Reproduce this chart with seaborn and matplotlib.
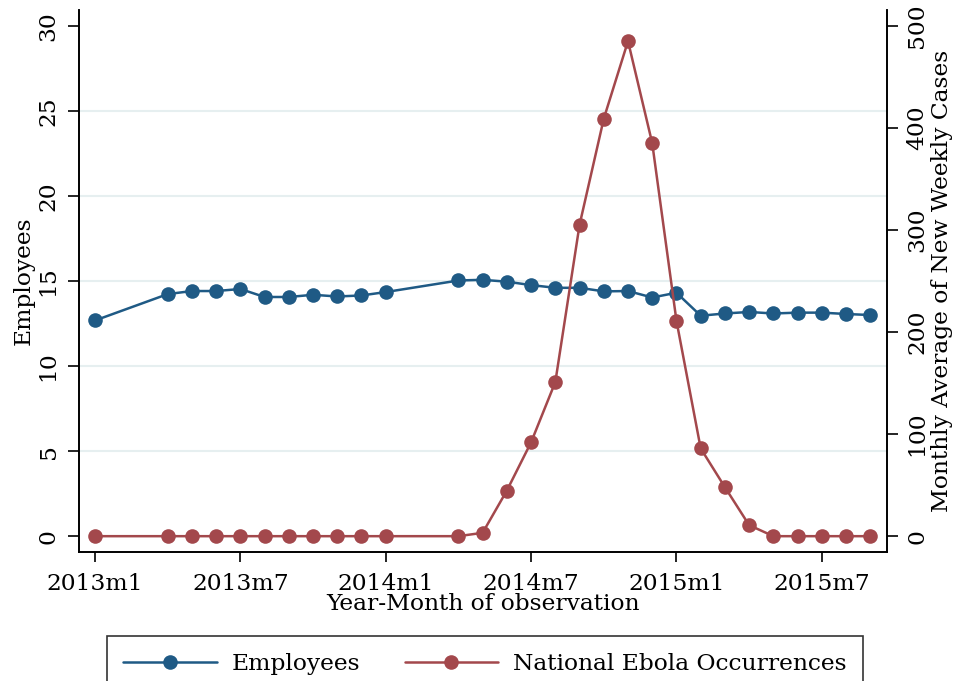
import matplotlib
matplotlib.use("Agg")
import matplotlib.pyplot as plt
import seaborn as sns
import pandas as pd

months = ["2013m1", "2013m4", "2013m5", "2013m6", "2013m7", "2013m8", "2013m9",
          "2013m10", "2013m11", "2013m12", "2014m1", "2014m4", "2014m5", "2014m6",
          "2014m7", "2014m8", "2014m9", "2014m10", "2014m11", "2014m12", "2015m1",
          "2015m2", "2015m3", "2015m4", "2015m5", "2015m6", "2015m7", "2015m8", "2015m9"]
employees = [12.68, 14.23, 14.41, 14.41, 14.53, 14.06, 14.06, 14.19, 14.09, 14.15,
             14.35, 15.03, 15.07, 14.96, 14.76, 14.60, 14.60, 14.39, 14.41, 14.03,
             14.31, 12.96, 13.09, 13.18, 13.09, 13.14, 13.14, 13.06, 13.00]
ebola = [0, 0, 0, 0, 0, 0, 0, 0, 0, 0, 0, 0, 3.3, 44.7, 92, 151, 305, 409, 485, 385,
         211, 86, 48, 10.8, 0, 0, 0, 0, 0]
xtick_labels = ["2013m1", "2013m7", "2014m1", "2014m7", "2015m1", "2015m7"]
left_ticks = [0, 5, 10, 15, 20, 25, 30]
right_ticks = [0, 100, 200, 300, 400, 500]


def month_index(s):
    y, m = s.split("m")
    return (int(y) - 2013) * 12 + int(m) - 1


df = pd.DataFrame({"month": months, "Employees": employees, "Ebola": ebola})
df["t"] = df["month"].map(month_index)

sns.set_theme(style="white")
plt.rcParams["font.family"] = ["DejaVu Serif"]
plt.rcParams["text.color"] = "black"

BLUE = "#1f5a85"
RED = "#a3484c"

fig = plt.figure(figsize=(9.58, 6.81), dpi=100)
ax = fig.add_axes([79 / 958, 1 - 552 / 681, (887 - 79) / 958, (552 - 10) / 681])
ax2 = ax.twinx()

sns.lineplot(data=df, x="t", y="Employees", ax=ax, color=BLUE, marker="o",
             markersize=10.5, markeredgewidth=0, linewidth=1.8, label="Employees",
             legend=False)
sns.lineplot(data=df, x="t", y="Ebola", ax=ax2, color=RED, marker="o",
             markersize=10.5, markeredgewidth=0, linewidth=1.8,
             label="National Ebola Occurrences", legend=False)

ax.set_xlim(-0.66, 32.69)
ax.set_ylim(-0.93, 30.93)
ax2.set_ylim(-0.93 * 500 / 30, 30.93 * 500 / 30)

ax.set_xticks([month_index(s) for s in xtick_labels])
ax.set_xticklabels(xtick_labels)
ax.set_yticks(left_ticks)
ax.set_yticklabels([str(v) for v in left_ticks], rotation=90, va="center")
ax2.set_yticks(right_ticks)
ax2.set_yticklabels([str(v) for v in right_ticks], rotation=90, va="center")

fs = 16.8
ax.tick_params(axis="x", which="major", labelsize=fs, length=7, width=1.2,
               color="black", direction="out", pad=8, labelcolor="black", bottom=True)
ax.tick_params(axis="y", which="major", labelsize=fs, length=8, width=1.2,
               color="black", direction="out", pad=6, labelcolor="black", left=True)
ax2.tick_params(axis="y", right=True, labelsize=fs, length=8, width=1.2,
                color="black", direction="out", pad=6, labelcolor="black")

ax.set_xlabel("Year-Month of observation", fontsize=fs, color="black", labelpad=-1)
ax.set_ylabel("Employees", fontsize=fs, color="black", labelpad=2)
ax2.set_ylabel("Monthly Average of New Weekly Cases", fontsize=fs, color="black",
               labelpad=2)

ax.grid(axis="y", color="#e6eff0", linewidth=1.5)
ax.grid(axis="x", visible=False)
gl = ax.get_ygridlines()
gl[0].set_visible(False)
gl[-1].set_visible(False)
ax.set_axisbelow(True)

for a in (ax, ax2):
    for side in ("left", "right", "bottom"):
        a.spines[side].set_visible(True)
        a.spines[side].set_color("black")
        a.spines[side].set_linewidth(1.2)
    a.spines["top"].set_visible(False)

h1, l1 = ax.get_legend_handles_labels()
h2, l2 = ax2.get_legend_handles_labels()
leg = fig.legend(h1 + h2, l1 + l2, loc="upper center",
                 bbox_to_anchor=(485 / 958, 1 - 636 / 681), ncol=2, fontsize=fs,
                 frameon=True, fancybox=False, edgecolor="black",
                 handlelength=4.0, handletextpad=0.64, columnspacing=1.9,
                 borderpad=0.72, borderaxespad=0, numpoints=1)
leg.get_frame().set_linewidth(1.2)

fig.savefig("out.png", dpi=100)
